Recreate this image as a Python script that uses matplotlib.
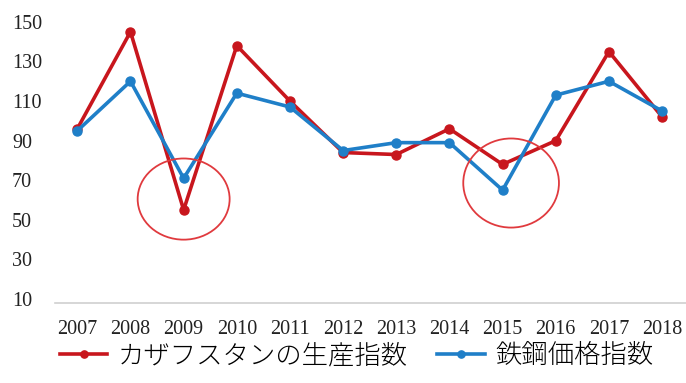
import matplotlib.pyplot as plt
from matplotlib.patches import Ellipse

# Data
years = ['2007', '2008', '2009', '2010', '2011', '2012',
         '2013', '2014', '2015', '2016', '2017', '2018']
production = [96, 145, 55, 138, 110, 84, 83, 96, 78, 90, 135, 102]
steel_price = [95, 120, 71, 114, 107, 85, 89, 89, 65, 113, 120, 105]
yticks = [10, 30, 50, 70, 90, 110, 130, 150]

red = '#C8161D'
blue = '#1F7FC8'

plt.rcParams['font.family'] = ['Liberation Serif', 'DejaVu Serif']

fig = plt.figure(figsize=(6.86, 3.83), dpi=100)
ax = fig.add_axes([55 / 686, 80 / 383, 631 / 686, 293 / 383])

x = list(range(len(years)))
ax.plot(x, production, color=red, linewidth=2.6, marker='o', markersize=6.5,
        label='カザフスタンの生産指数')
ax.plot(x, steel_price, color=blue, linewidth=2.6, marker='o', markersize=6.5,
        label='鉄鋼価格指数')

# highlight circles
ax.add_patch(Ellipse((2.0, 60.5), 1.73, 41, fill=False, edgecolor='#E03A3E',
                     linewidth=1.3, zorder=5))
ax.add_patch(Ellipse((8.16, 68.6), 1.8, 45, fill=False, edgecolor='#E03A3E',
                     linewidth=1.3, zorder=5))

ax.set_xlim(-0.42, 11.45)
ax.set_ylim(8, 156)
ax.set_xticks(x)
ax.set_xticklabels(years, fontsize=14.5, color='#222222')
ax.set_yticks(yticks)
ax.set_yticklabels([str(v) for v in yticks], fontsize=14.5, color='#222222',
                   ha='left')
ax.tick_params(length=0)
ax.tick_params(axis='y', pad=31)
ax.tick_params(axis='x', pad=12)
for s in ['top', 'right', 'left']:
    ax.spines[s].set_visible(False)
ax.spines['bottom'].set_color('#d0d0d0')
ax.spines['bottom'].set_linewidth(1.2)

fig.legend(loc='center', bbox_to_anchor=(0.52, 0.073), ncol=2, frameon=False,
           prop={'family': ['Noto Sans CJK JP', 'DejaVu Sans'], 'size': 19,
                 'weight': 'light'},
           handlelength=1.8, handletextpad=0.4, columnspacing=1.1,
           markerscale=0.8)

fig.savefig('out.png', dpi=100)
